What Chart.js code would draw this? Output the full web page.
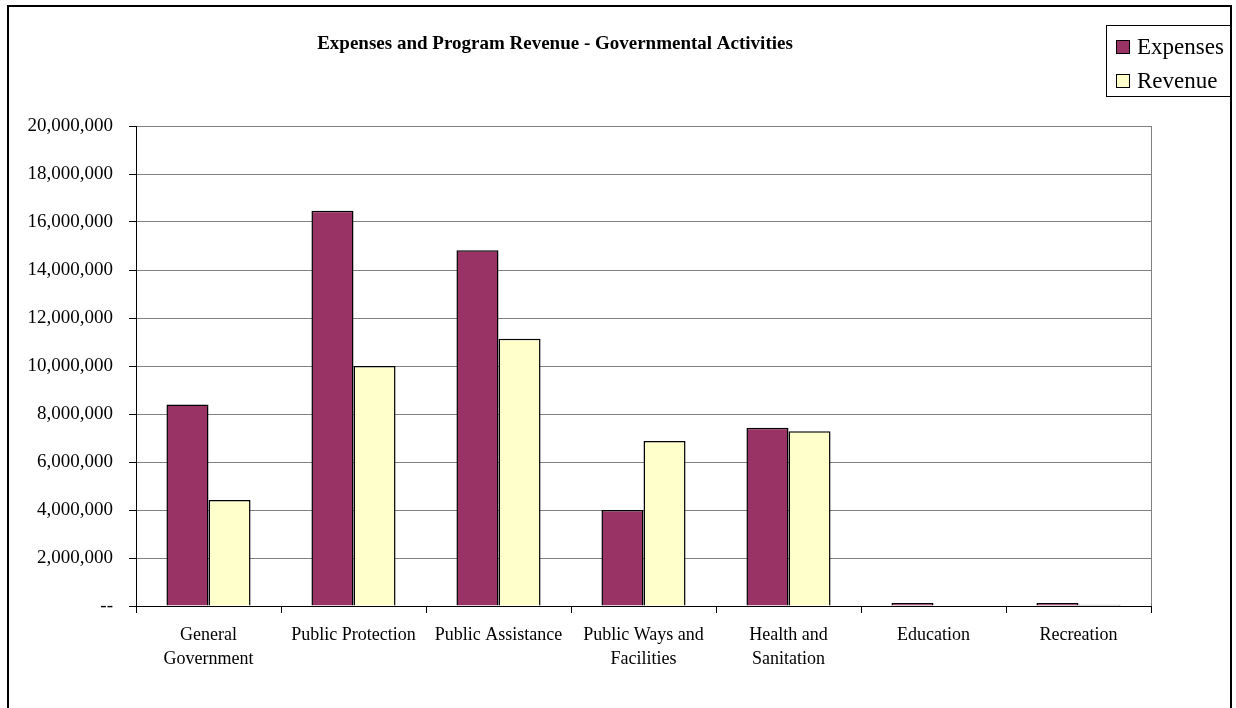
<!DOCTYPE html>
<html>
<head>
<meta charset="utf-8">
<script src="https://cdn.jsdelivr.net/npm/chart.js@4.4.0/dist/chart.umd.min.js"></script>
<style>
  body { margin: 0; background: #fff; }
  #wrap { width: 1236px; height: 708px; }
</style>
</head>
<body>
<div id="wrap"><canvas id="chart" width="1236" height="708"></canvas></div>
<script>
// categories and values
const categories = [
  ["General", "Government"],
  "Public Protection",
  "Public Assistance",
  ["Public Ways and", "Facilities"],
  ["Health and", "Sanitation"],
  "Education",
  "Recreation",
]
const expenses = [8400000, 16470000, 14820000, 4000000, 7430000, 120000, 120000]
const revenue = [4420000, 10000000, 11140000, 6870000, 7280000, 0, 50000]
const yTicks = [0, 2000000, 4000000, 6000000, 8000000, 10000000, 12000000, 14000000, 16000000, 18000000, 20000000]

const chartTitle = "Expenses and Program Revenue - Governmental Activities"
const serif = "'Liberation Serif', 'Times New Roman', serif"

// frame, title, right border of plot, legend box
const decor = {
  id: "decor",
  beforeDraw(chart) {
    const ctx = chart.ctx
    ctx.save()
    ctx.fillStyle = "#fff"
    ctx.fillRect(0, 0, chart.width, chart.height)
    ctx.strokeStyle = "#000"
    ctx.lineWidth = 2
    ctx.strokeRect(8, 6, 1223, 720)
    ctx.restore()
  },
  afterDraw(chart) {
    const ctx = chart.ctx
    const a = chart.chartArea
    ctx.save()
    // right edge of plot area
    ctx.strokeStyle = "#808080"
    ctx.lineWidth = 1
    ctx.beginPath()
    ctx.moveTo(a.right + 0.5, a.top)
    ctx.lineTo(a.right + 0.5, a.bottom)
    ctx.stroke()

    // title
    ctx.fillStyle = "#000"
    ctx.font = "bold 19px " + serif
    ctx.textAlign = "center"
    ctx.textBaseline = "middle"
    ctx.fillText(chartTitle, 555, 44)

    // legend
    ctx.strokeStyle = "#000"
    ctx.strokeRect(1106.5, 25.5, 124, 71)
    ctx.font = "23px " + serif
    ctx.textAlign = "left"
    chart.data.datasets.forEach((ds, i) => {
      const y = 47 + i * 34
      ctx.fillStyle = ds.backgroundColor
      ctx.fillRect(1116, y - 7, 14, 14)
      ctx.strokeStyle = "#000"
      ctx.strokeRect(1116.5, y - 6.5, 13, 13)
      ctx.fillStyle = "#000"
      ctx.fillText(ds.label, 1137, y + 1)
    })
    ctx.restore()
  },
}

new Chart(document.getElementById("chart"), {
  type: "bar",
  data: {
    labels: categories,
    datasets: [
      {
        label: "Expenses",
        data: expenses,
        backgroundColor: "#993366",
        borderColor: "#000",
        borderWidth: 1.5,
        categoryPercentage: 0.58,
        barPercentage: 1.0,
      },
      {
        label: "Revenue",
        data: revenue,
        backgroundColor: "#FFFFCC",
        borderColor: "#000",
        borderWidth: 1.5,
        categoryPercentage: 0.58,
        barPercentage: 1.0,
      },
    ],
  },
  options: {
    responsive: false,
    animation: false,
    devicePixelRatio: 1,
    layout: { padding: { top: 126, right: 85, left: 0, bottom: 0 } },
    plugins: {
      legend: { display: false },
      title: { display: false },
      tooltip: { enabled: false },
    },
    scales: {
      x: {
        afterFit: (s) => { s.height = 102 },
        border: { color: "#000", width: 1 },
        grid: {
          offset: true,
          drawOnChartArea: false,
          tickLength: 7,
          tickColor: "#000",
        },
        ticks: {
          color: "#000",
          padding: 10,
          maxRotation: 0,
          autoSkip: false,
          font: { family: serif, size: 18, lineHeight: 1.33 },
        },
      },
      y: {
        min: 0,
        max: 20000000,
        afterFit: (s) => { s.width = 136 },
        afterBuildTicks: (s) => { s.ticks = yTicks.map((v) => ({ value: v })) },
        border: { color: "#000", width: 1 },
        grid: {
          color: "#808080",
          tickLength: 7,
          tickColor: "#000",
        },
        ticks: {
          color: "#000",
          padding: 16,
          font: { family: serif, size: 19 },
          callback: (v) => (v === 0 ? "--" : v.toLocaleString("en-US")),
        },
      },
    },
  },
  plugins: [decor],
})
</script>
</body>
</html>
